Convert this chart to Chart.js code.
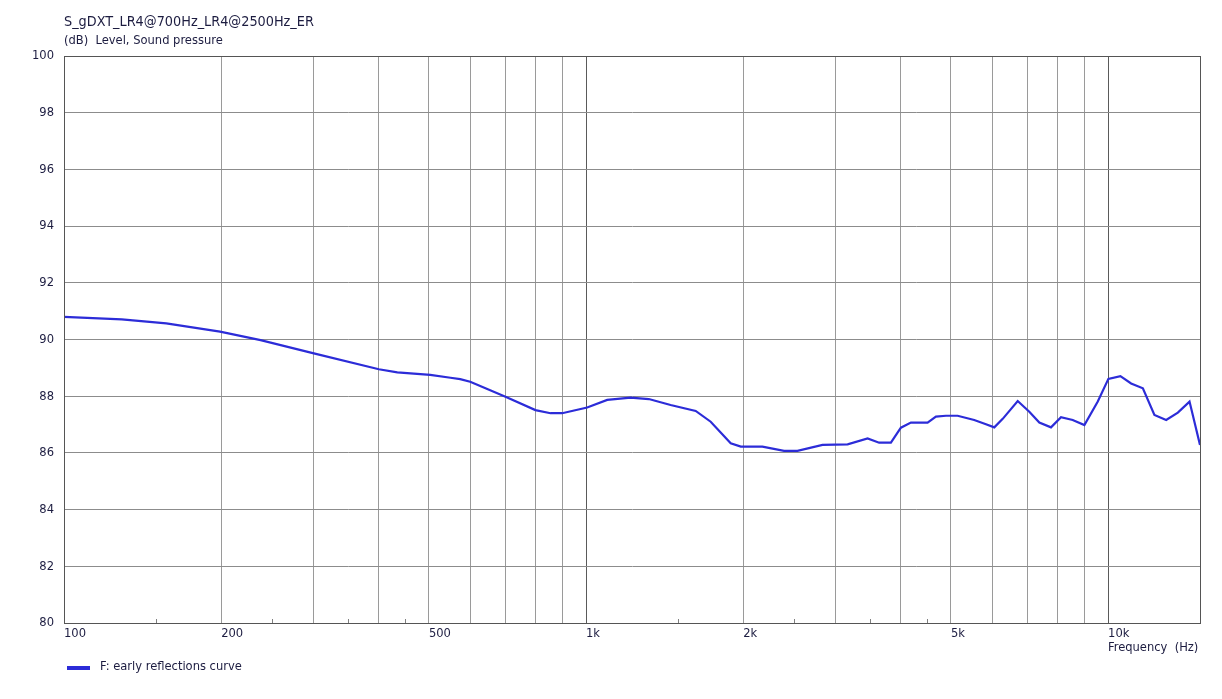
<!DOCTYPE html>
<html>
<head>
<meta charset="utf-8">
<script src="https://cdn.jsdelivr.net/npm/chart.js@4/dist/chart.umd.min.js"></script>
<style>
  html, body { margin: 0; padding: 0; background: #ffffff; }
  #wrap { width: 1222px; height: 699px; position: relative; }
</style>
</head>
<body>
<div id="wrap"><canvas id="c" width="1222" height="699"></canvas></div>
<script>
// ---- data ----
const frequencies = [100,129,157,199,238,301,401,435,503,550,574,600,701,800,855,900,1005,1098,1217,1319,1452,1622,1733,1893,1979,2177,2395,2541,2838,3170,3462,3643,3837,4010,4191,4511,4680,4891,5150,5541,5836,6054,6283,6713,7065,7384,7774,8125,8555,9008,9556,10014,10559,11070,11659,12268,12921,13604,14323,15000];
const earlyReflections = [90.80,90.71,90.57,90.28,89.98,89.51,88.95,88.84,88.75,88.65,88.60,88.51,87.98,87.51,87.40,87.40,87.60,87.87,87.95,87.90,87.69,87.48,87.10,86.34,86.22,86.22,86.07,86.07,86.28,86.30,86.51,86.36,86.36,86.89,87.07,87.07,87.28,87.31,87.31,87.16,87.01,86.90,87.20,87.83,87.45,87.07,86.90,87.26,87.16,86.98,87.81,88.61,88.71,88.45,88.28,87.34,87.16,87.42,87.81,86.28];
const xGridValues = [100,200,300,400,500,600,700,800,900,1000,2000,3000,4000,5000,6000,7000,8000,9000,10000];
const xLabelValues = [100,200,500,1000,2000,5000,10000];
const xLabelTexts = ['100','200','500','1k','2k','5k','10k'];
const xMinorTickValues = [150,250,350,450,1500,2500,3500,4500];
const decadeValues = [100,1000,10000];
const yTickValues = [80,82,84,86,88,90,92,94,96,98,100];

const chartTitle = 'S_gDXT_LR4@700Hz_LR4@2500Hz_ER';
const yAxisTitle = '(dB)  Level, Sound pressure';
const xAxisTitle = 'Frequency  (Hz)';
const seriesName = 'F: early reflections curve';

const FONT = "'DejaVu Sans Condensed', 'DejaVu Sans', sans-serif";
const TEXT_COLOR = '#1c1c40';
const LINE_COLOR = '#2c2cd8';

Chart.defaults.font.family = FONT;
Chart.defaults.color = TEXT_COLOR;

const decorPlugin = {
  id: 'decor',
  afterDraw(chart) {
    const ctx = chart.ctx;
    const a = chart.chartArea;
    const xs = chart.scales.x;
    ctx.save();
    // minor ticks on bottom axis
    ctx.strokeStyle = '#808080';
    ctx.lineWidth = 1;
    xMinorTickValues.forEach(v => {
      const px = Math.round(xs.getPixelForValue(v)) + 0.5;
      ctx.beginPath();
      ctx.moveTo(px, a.bottom);
      ctx.lineTo(px, a.bottom - 4);
      ctx.stroke();
    });
    // frame
    ctx.strokeStyle = '#555555';
    ctx.strokeRect(Math.round(a.left) + 0.5, Math.round(a.top) + 0.5, Math.round(a.right - a.left), Math.round(a.bottom - a.top));
    // titles
    ctx.fillStyle = TEXT_COLOR;
    ctx.textBaseline = 'alphabetic';
    ctx.textAlign = 'left';
    ctx.font = "14.3px " + FONT;
    ctx.fillText(chartTitle, 64, 26);
    ctx.font = "12.8px " + FONT;
    ctx.fillText(yAxisTitle, 64, 44);
    ctx.fillText(xAxisTitle, 1108, 651);
    // legend
    const ds = chart.data.datasets[0];
    ctx.fillStyle = ds.borderColor;
    ctx.fillRect(67, 666, 23, 4);
    ctx.fillStyle = TEXT_COLOR;
    ctx.fillText(ds.label, 100, 670);
    ctx.restore();
  }
};

new Chart(document.getElementById('c'), {
  type: 'line',
  data: {
    datasets: [{
      label: seriesName,
      data: frequencies.map((f, i) => ({ x: f, y: earlyReflections[i] })),
      borderColor: LINE_COLOR,
      backgroundColor: LINE_COLOR,
      borderWidth: 2.2,
      pointRadius: 0,
      tension: 0,
      fill: false
    }]
  },
  options: {
    responsive: false,
    animation: false,
    devicePixelRatio: 1,
    layout: { padding: { top: 56, right: 22, left: 0, bottom: 0 } },
    plugins: { legend: { display: false }, title: { display: false }, tooltip: { enabled: false } },
    scales: {
      x: {
        type: 'logarithmic',
        min: 100,
        max: 15000,
        afterBuildTicks(scale) { scale.ticks = xGridValues.map(v => ({ value: v })); },
        afterFit(scale) { scale.height = 76; },
        border: { display: true, color: '#555555', width: 1 },
        grid: {
          drawTicks: false,
          color: c => decadeValues.includes(c.tick && c.tick.value) ? '#5a5a5a' : '#9a9a9a',
          lineWidth: 1
        },
        ticks: {
          autoSkip: false,
          maxRotation: 0,
          minRotation: 0,
          align: 'start',
          padding: 3,
          color: TEXT_COLOR,
          font: { size: 12.8 },
          callback(value) {
            const i = xLabelValues.indexOf(value);
            return i >= 0 ? xLabelTexts[i] : '';
          }
        }
      },
      y: {
        type: 'linear',
        min: 80,
        max: 100,
        afterBuildTicks(scale) { scale.ticks = yTickValues.map(v => ({ value: v })); },
        afterFit(scale) { scale.width = 64; },
        border: { display: true, color: '#555555', width: 1 },
        grid: { drawTicks: false, color: '#8c8c8c', lineWidth: 1 },
        ticks: {
          padding: 10,
          color: TEXT_COLOR,
          font: { size: 12.8 },
          callback: v => String(v)
        }
      }
    }
  },
  plugins: [decorPlugin]
});
</script>
</body>
</html>
